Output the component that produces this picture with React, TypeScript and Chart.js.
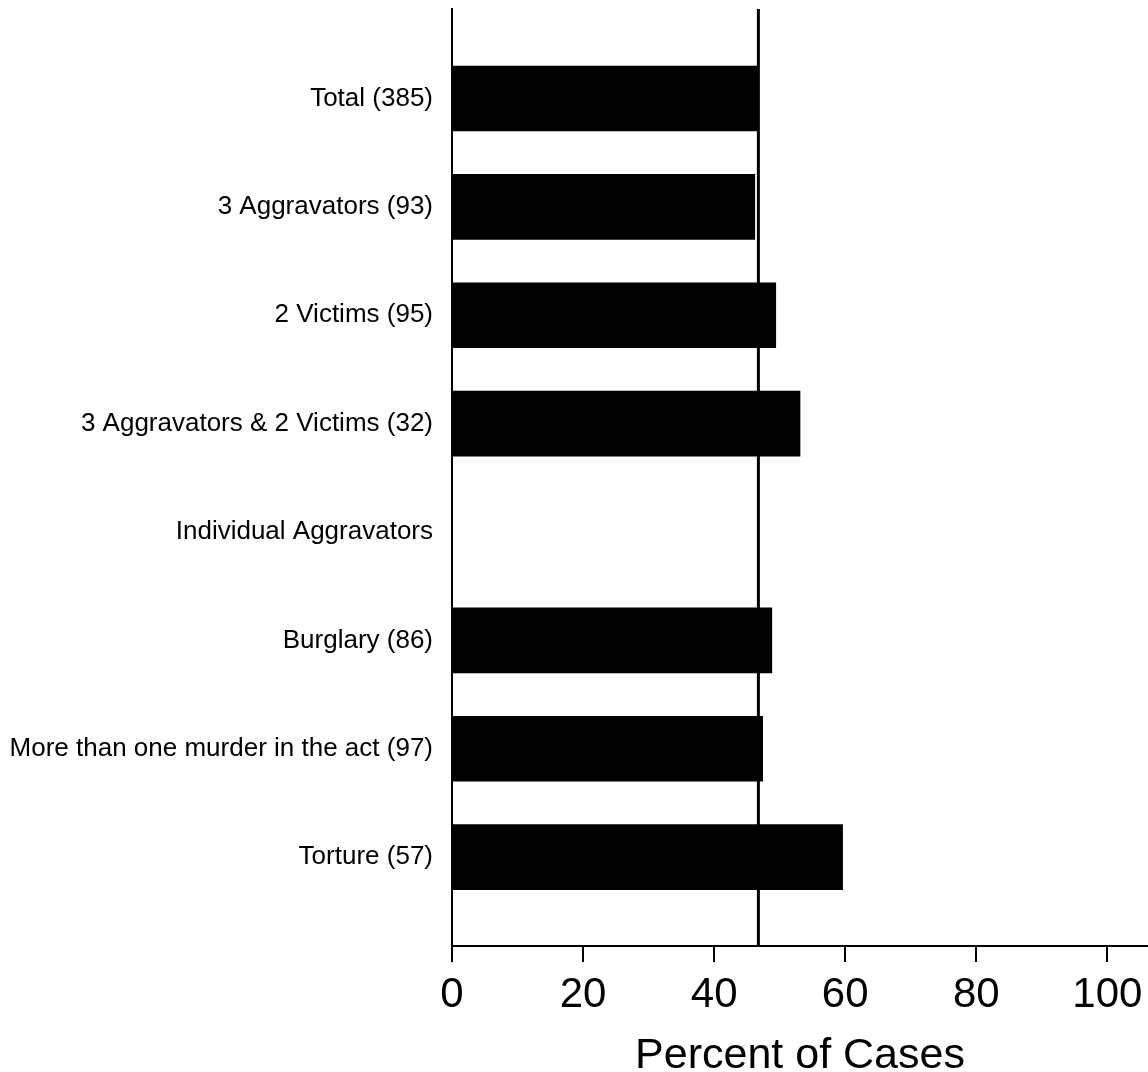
import React, { useEffect, useRef } from "react";
import { Chart, registerables } from "chart.js";

Chart.register(...registerables);

const categories = [
  "Total (385)",
  "3 Aggravators (93)",
  "2 Victims (95)",
  "3 Aggravators & 2 Victims (32)",
  "Individual Aggravators",
  "Burglary (86)",
  "More than one murder in the act (97)",
  "Torture (57)",
];
const percentValues: (number | null)[] = [46.6, 46.2, 49.4, 53.1, null, 48.8, 47.4, 59.6];
const referenceValue = 46.75;
const xTickValues = [0, 20, 40, 60, 80, 100];

const FONT = "'Liberation Sans', Arial, Helvetica, sans-serif";

export default function App() {
  const ref = useRef<HTMLCanvasElement | null>(null);

  useEffect(() => {
    if (!ref.current) return;
    const points = percentValues
      .map((v, i) => ({ x: v, y: i }))
      .filter((p) => p.x !== null) as { x: number; y: number }[];

    const refLine = {
      id: "refLine",
      afterDatasetsDraw(chart: any) {
        const { ctx, chartArea, scales } = chart;
        const x = scales.x.getPixelForValue(referenceValue);
        ctx.save();
        ctx.strokeStyle = "#000";
        ctx.lineWidth = 3;
        ctx.beginPath();
        ctx.moveTo(x, chartArea.top);
        ctx.lineTo(x, chartArea.bottom);
        ctx.stroke();
        ctx.restore();
      },
    };

    const chart = new Chart(ref.current, {
      type: "bar",
      data: {
        datasets: [
          {
            data: points as any,
            backgroundColor: "#000",
            borderWidth: 0,
            barThickness: 65,
          },
        ],
      },
      options: {
        indexAxis: "y",
        animation: false,
        responsive: false,
        maintainAspectRatio: false,
        layout: { padding: { top: 9, right: 0, bottom: 0, left: 0 } },
        plugins: {
          legend: { display: false },
          tooltip: { enabled: false },
        },
        scales: {
          x: {
            type: "linear",
            min: 0,
            max: 106.2,
            afterBuildTicks: (scale: any) => {
              scale.ticks = xTickValues.map((v) => ({ value: v }));
            },
            afterFit: (scale: any) => {
              scale.height = 126;
              scale.paddingLeft = 0;
              scale.paddingRight = 0;
            },
            grid: {
              display: true,
              drawOnChartArea: false,
              drawTicks: true,
              tickLength: 16,
              color: "#000",
              lineWidth: 2,
            },
            border: { display: true, color: "#000", width: 2 },
            ticks: {
              color: "#000",
              font: { family: FONT, size: 42 },
              padding: 8,
              maxRotation: 0,
              autoSkip: false,
            },
            title: {
              display: true,
              text: "Percent of Cases",
              color: "#000",
              font: { family: FONT, size: 43 },
              padding: { top: 0, bottom: -10 },
            },
          },
          y: {
            type: "linear",
            reverse: true,
            offset: false,
            min: -0.826,
            max: 7.82,
            afterBuildTicks: (scale: any) => {
              scale.ticks = categories.map((_, i) => ({ value: i }));
            },
            afterFit: (scale: any) => {
              scale.width = 452;
              scale.paddingTop = 0;
              scale.paddingBottom = 0;
            },
            grid: { display: false, drawTicks: false },
            border: { display: true, color: "#000", width: 2 },
            ticks: {
              color: "#000",
              font: { family: FONT, size: 26 },
              padding: 19,
              autoSkip: false,
              callback: (v: any) => categories[Number(v)] ?? "",
            },
          },
        },
      },
      plugins: [refLine],
    });
    return () => chart.destroy();
  }, []);

  return (
    <div style={{ position: "fixed", left: 0, top: 0, width: 1148, height: 1072, background: "#fff" }}>
      <canvas ref={ref} width={1148} height={1072} style={{ display: "block", width: 1148, height: 1072 }} />
    </div>
  );
}
